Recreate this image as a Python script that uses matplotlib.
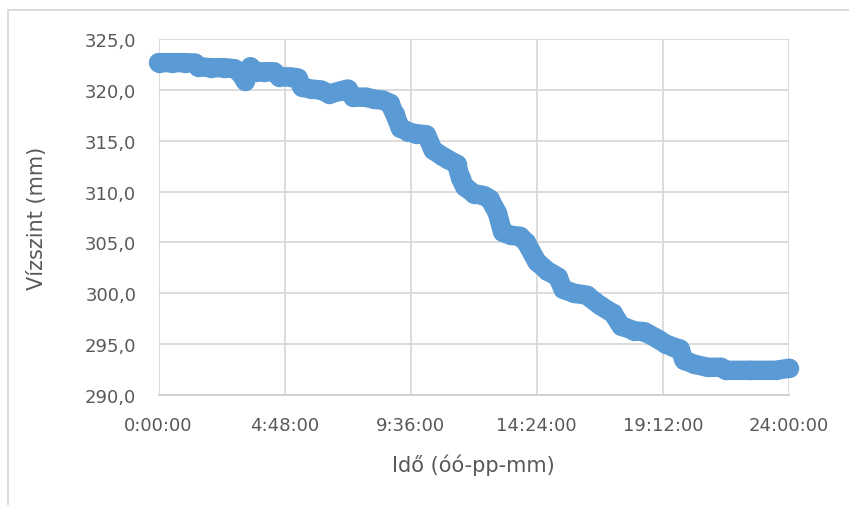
import matplotlib.pyplot as plt
from matplotlib.lines import Line2D
from matplotlib.ticker import FuncFormatter

# idő órában (0-24) és vízszint mm-ben
hours = [0.0, 0.5, 1.0, 1.4, 1.5, 2.0, 2.5, 2.9, 3.1, 3.3, 3.5, 3.7, 4.0, 4.4,
         4.6, 5.0, 5.3, 5.45, 5.8, 6.2, 6.5, 6.9, 7.2, 7.4, 7.9, 8.2, 8.55, 8.8,
         9.0, 9.2, 9.5, 9.8, 10.2, 10.45, 10.8, 11.0, 11.35, 11.5, 11.65, 12.0,
         12.4, 12.6, 12.9, 13.1, 13.4, 13.75, 14.0, 14.4, 14.8, 15.2, 15.4, 15.8,
         16.3, 16.8, 17.3, 17.6, 18.1, 18.5, 19.0, 19.3, 19.6, 19.85, 20.0, 20.4,
         20.9, 21.4, 21.6, 22.5, 23.5, 24.0]
level = [322.7, 322.7, 322.7, 322.65, 322.3, 322.2, 322.2, 322.1, 321.7, 320.9,
         322.3, 321.8, 321.8, 321.8, 321.3, 321.3, 321.2, 320.3, 320.1, 320.0,
         319.6, 319.9, 320.1, 319.3, 319.3, 319.1, 319.0, 318.7, 317.6, 316.3,
         315.9, 315.7, 315.6, 314.1, 313.5, 313.2, 312.7, 311.3, 310.5, 309.8,
         309.6, 309.3, 307.9, 306.0, 305.7, 305.6, 305.0, 303.1, 302.2, 301.6,
         300.4, 300.0, 299.8, 298.8, 298.0, 296.8, 296.3, 296.2, 295.5, 295.0,
         294.7, 294.5, 293.4, 293.0, 292.7, 292.7, 292.4, 292.4, 292.4, 292.6]

x_ticks = [0, 4.8, 9.6, 14.4, 19.2, 24]
y_ticks = [290, 295, 300, 305, 310, 315, 320, 325]

text_color = "#595959"
grid_color = "#D9D9D9"
blue = "#5B9BD5"

fig = plt.figure(figsize=(8.49, 5.06), dpi=100)
ax = fig.add_axes([0.1867, 0.218, 0.7426, 0.7024])

ax.plot(hours, level, color=blue, lw=14, marker="o", markersize=14,
        markeredgewidth=0, solid_joinstyle="round", solid_capstyle="round",
        zorder=3, clip_on=False)

ax.set_xlim(0, 24)
ax.set_ylim(290, 325)
ax.set_xticks(x_ticks)
ax.set_yticks(y_ticks)


def fmt_time(h, pos):
    total = int(round(h * 3600))
    return f"{total // 3600}:{(total % 3600) // 60:02d}:{total % 60:02d}"


ax.xaxis.set_major_formatter(FuncFormatter(fmt_time))
ax.yaxis.set_major_formatter(FuncFormatter(lambda v, p: f"{v:.1f}".replace(".", ",")))

ax.grid(True, color=grid_color, lw=1.3)
ax.set_axisbelow(True)
for side in ["top", "right", "left"]:
    ax.spines[side].set_visible(False)
ax.spines["bottom"].set_color("#CFCFCF")
ax.spines["bottom"].set_linewidth(1.3)

ax.tick_params(axis="both", length=0, labelsize=13, labelcolor=text_color)
ax.tick_params(axis="y", pad=16)
ax.tick_params(axis="x", pad=15)

ax.set_xlabel("Idő (óó-pp-mm)", fontsize=15, color=text_color)
ax.set_ylabel("Vízszint (mm)", fontsize=15, color=text_color)
ax.xaxis.set_label_coords(0.5, -0.197, transform=ax.transAxes)
ax.yaxis.set_label_coords(-0.192, 0.5, transform=ax.transAxes)
ax.xaxis.label.set_va("center")
ax.yaxis.label.set_va("center")

# külső keret (a kép jobb és alsó szélén túlnyúlik)
fig.add_artist(Line2D([7.5 / 849, 1.0], [1 - 11 / 506, 1 - 11 / 506],
                      transform=fig.transFigure, color=grid_color, lw=1.3))
fig.add_artist(Line2D([7.5 / 849, 7.5 / 849], [0.0, 1 - 11 / 506],
                      transform=fig.transFigure, color=grid_color, lw=1.3))

fig.savefig("out.png", dpi=100, facecolor="white")
